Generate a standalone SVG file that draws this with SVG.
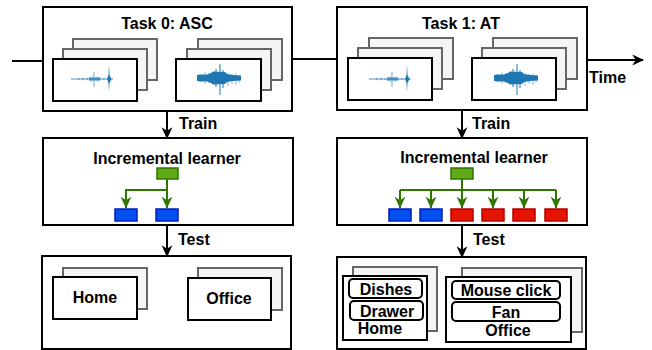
<svg xmlns="http://www.w3.org/2000/svg" width="652" height="350" viewBox="0 0 652 350">
<style>
  .box{fill:#ffffff;stroke:#000000;stroke-width:2}
  .back{fill:#f5f5f5;stroke:#666666;stroke-width:2}
  .card{fill:#ffffff;stroke:#000000;stroke-width:2}
  .pill{fill:#ffffff;stroke:#000000;stroke-width:2}
  .t{font-family:"Liberation Sans",Arial,sans-serif;font-weight:bold;font-size:16px;fill:#000000}
  .mid{text-anchor:middle}
  .line{stroke:#000000;stroke-width:2;fill:none}
  .g{stroke:#2d7600;stroke-width:2;fill:none}
  .gr{fill:#60a917;stroke:#2d7600;stroke-width:1.5}
  .bl{fill:#0050ef;stroke:#001dbc;stroke-width:1.5}
  .rd{fill:#e51400;stroke:#b20000;stroke-width:1.5}
  .wv{stroke:#1f77b4;fill:none}
</style>
<defs>
  <marker id="ab" markerUnits="userSpaceOnUse" markerWidth="12" markerHeight="12" viewBox="0 0 10 10" refX="9" refY="5" orient="auto">
    <path d="M0,0.5 L10,5 L0,9.5 L3,5 z" fill="#000000"/>
  </marker>
  <marker id="ag" markerUnits="userSpaceOnUse" markerWidth="12" markerHeight="12" viewBox="0 0 10 10" refX="9.5" refY="5" orient="auto">
    <path d="M0,0.5 L10,5 L0,9.5 L3,5 z" fill="#2d7600"/>
  </marker>
  <symbol id="sparse" overflow="visible">
    <line class="wv" x1="0" y1="0" x2="42" y2="0" stroke-width="0.8"/>
    <path class="wv" stroke-width="0.8" opacity="0.8" d="M8,-1V1 M12,-1.5V1.5 M16,-1V1 M19,-2V2 M21,-2.5V2.5 M23,-7V8 M25,-2V2 M27,-2.5V2.5 M29,-1.5V1.5 M33,-1V1"/>
    <path d="M38,-15 L38.5,-4 L40.5,0 L38.5,4 L38,13 L37.5,4 L36,0 L37.5,-4 z" fill="#1f77b4"/>
    <path d="M18,-1.5 L29,-1.5 L29,1.5 L18,1.5 z" fill="#1f77b4" opacity="0.6"/>
  </symbol>
  <symbol id="dense" overflow="visible">
    <path d="M0,-3 L4,-3.5 L10,-3.5 L14,-5 L16,-6.5 L28,-6 L30,-4 L36,-3 L44,-2.5 L44,2.5 L36,3 L30,4 L28,6 L16,6.5 L14,5 L10,3.5 L4,3.5 L0,3 z" fill="#1f77b4"/>
    <path class="wv" stroke-width="1" d="M23,-14V17 M19,-9V9 M26,-8V10"/>
    <path class="wv" stroke-width="0.8" opacity="0.6" d="M8,-6V6 M12,-5V5 M31,-5V8 M35,-4V6 M39,-5V7 M42,-3V5 M3,-4V4"/>
  </symbol>
</defs>

<g id="connectors">
  <line class="line" x1="12" y1="61" x2="43" y2="61"/>
  <line class="line" x1="292" y1="59" x2="337" y2="59"/>
  <line class="line" x1="587" y1="60" x2="643" y2="60" marker-end="url(#ab)"/>
  <line class="line" x1="167" y1="111" x2="167" y2="138" marker-end="url(#ab)"/>
  <line class="line" x1="167" y1="225" x2="167" y2="256" marker-end="url(#ab)"/>
  <line class="line" x1="462" y1="110" x2="462" y2="138" marker-end="url(#ab)"/>
  <line class="line" x1="462" y1="225" x2="462" y2="257" marker-end="url(#ab)"/>
  <text class="t" x="589" y="83">Time</text>
  <text class="t" x="179" y="129">Train</text>
  <text class="t" x="472" y="129">Train</text>
  <text class="t" x="178" y="245">Test</text>
  <text class="t" x="473" y="245">Test</text>
</g>

<g id="task0">
  <rect class="box" x="43" y="7" width="249" height="104"/>
  <text class="t mid" x="167" y="29">Task 0: ASC</text>
  <rect class="back" x="73" y="39" width="84" height="41"/>
  <rect class="back" x="63" y="49" width="84" height="41"/>
  <rect class="card" x="53" y="59" width="84" height="42"/>
  <use href="#sparse" x="71" y="79"/>
  <rect class="back" x="198" y="39" width="84" height="41"/>
  <rect class="back" x="187" y="49" width="84" height="41"/>
  <rect class="card" x="176" y="59" width="85" height="42"/>
  <use href="#dense" x="197" y="78"/>
</g>

<g id="task1">
  <rect class="box" x="337" y="7" width="250" height="103"/>
  <text class="t mid" x="461" y="29">Task 1: AT</text>
  <rect class="back" x="369" y="38" width="84" height="41"/>
  <rect class="back" x="358" y="48" width="84" height="41"/>
  <rect class="card" x="348" y="58" width="84" height="42"/>
  <use href="#sparse" x="369" y="79"/>
  <rect class="back" x="493" y="38" width="84" height="41"/>
  <rect class="back" x="482" y="48" width="84" height="41"/>
  <rect class="card" x="472" y="58" width="84" height="42"/>
  <use href="#dense" x="494" y="78"/>
</g>

<g id="learner0">
  <rect class="box" x="43" y="138" width="250" height="87"/>
  <text class="t mid" x="167" y="164">Incremental learner</text>
  <path class="g" d="M167,179 V208" marker-end="url(#ag)"/>
  <path class="g" d="M167,190 H126 V208" marker-end="url(#ag)"/>
  <rect class="gr" x="157" y="168" width="21" height="11"/>
  <rect class="bl" x="115" y="209" width="22" height="12"/>
  <rect class="bl" x="156" y="209" width="22" height="12"/>
</g>

<g id="learner1">
  <rect class="box" x="337" y="138" width="250" height="87"/>
  <text class="t mid" x="474" y="163">Incremental learner</text>
  <path class="g" d="M400,190 H556"/>
  <path class="g" d="M462,179 V208" marker-end="url(#ag)"/>
  <path class="g" d="M400,190 V208" marker-end="url(#ag)"/>
  <path class="g" d="M431,190 V208" marker-end="url(#ag)"/>
  <path class="g" d="M493,190 V208" marker-end="url(#ag)"/>
  <path class="g" d="M524,190 V208" marker-end="url(#ag)"/>
  <path class="g" d="M556,190 V208" marker-end="url(#ag)"/>
  <rect class="gr" x="451" y="168" width="22" height="11"/>
  <rect class="bl" x="389" y="209" width="22" height="12"/>
  <rect class="bl" x="420" y="209" width="22" height="12"/>
  <rect class="rd" x="451" y="209" width="22" height="12"/>
  <rect class="rd" x="482" y="209" width="22" height="12"/>
  <rect class="rd" x="513" y="209" width="22" height="12"/>
  <rect class="rd" x="545" y="209" width="22" height="12"/>
</g>

<g id="test0">
  <rect class="box" x="42" y="256" width="249" height="93"/>
  <rect class="back" x="63" y="268" width="84" height="41"/>
  <rect class="card" x="53" y="277" width="84" height="42"/>
  <text class="t mid" x="95" y="303">Home</text>
  <rect class="back" x="198" y="268" width="84" height="42"/>
  <rect class="card" x="188" y="278" width="83" height="42"/>
  <text class="t mid" x="229" y="304">Office</text>
</g>

<g id="test1">
  <rect class="box" x="337" y="257" width="249" height="92"/>
  <rect class="back" x="353" y="267" width="84" height="64"/>
  <rect class="card" x="343" y="276" width="84" height="64"/>
  <rect class="pill" x="349" y="279" width="73" height="19" rx="4"/>
  <text class="t mid" x="386" y="295">Dishes</text>
  <rect class="pill" x="350" y="301" width="73" height="19" rx="4"/>
  <text class="t mid" x="387" y="317">Drawer</text>
  <text class="t mid" x="380" y="334">Home</text>
  <rect class="back" x="462" y="268" width="120" height="64"/>
  <rect class="card" x="446" y="277" width="125" height="65"/>
  <rect class="pill" x="452" y="281" width="108" height="18" rx="4"/>
  <text class="t mid" x="506" y="296">Mouse click</text>
  <rect class="pill" x="452" y="302" width="108" height="19" rx="4"/>
  <text class="t mid" x="506" y="318">Fan</text>
  <text class="t mid" x="508" y="336">Office</text>
</g>
</svg>
